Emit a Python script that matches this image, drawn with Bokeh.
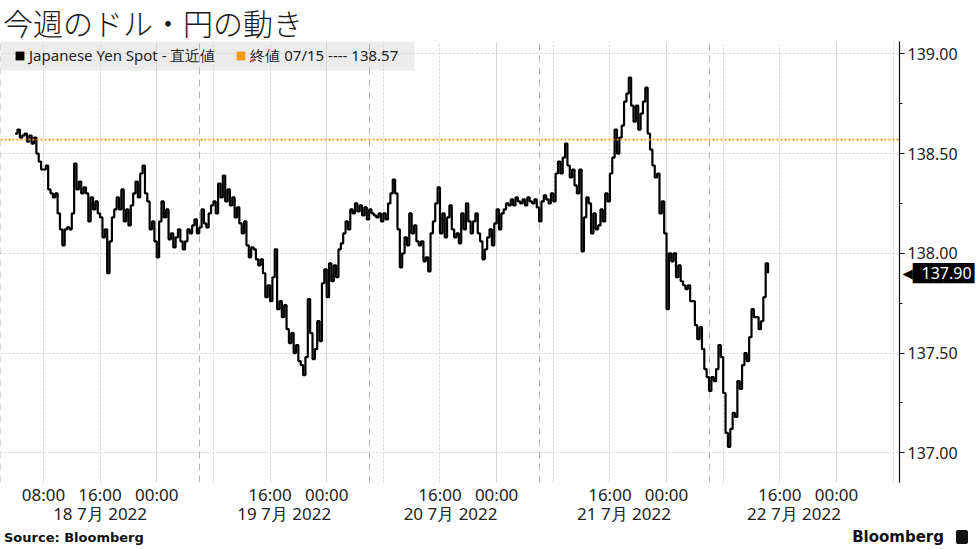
import pandas as pd
from bokeh.plotting import figure
from bokeh.layouts import column
from bokeh.models import (LinearAxis, FixedTicker, Grid, Span, Legend, LegendItem, Div,
                          BoxAnnotation, Range1d, ColumnDataSource, PrintfTickFormatter)
from bokeh.embed import file_html
from bokeh.resources import INLINE

# ---------------- data ----------------
title_text = "今週のドル・円の動き"
series_name = "Japanese Yen Spot - 直近値"
ref_name = "終値 07/15 ---- 138.57"
source_text = "Source: Bloomberg"
brand_text = "Bloomberg"
prev_close = 138.57
origin = "2022-07-18 00:00"          # JST
start_time = "2022-07-18 04:00"      # first sample
step = "20min"                       # sampling interval of the series
prices = [
    138.60, 138.62, 138.58, 138.59, 138.60, 138.56, 138.59, 138.55, 138.58, 138.50,
    138.46, 138.42, 138.42, 138.44, 138.32, 138.30, 138.28, 138.30, 138.20, 138.12,
    138.04, 138.12, 138.13, 138.12, 138.20, 138.45, 138.32, 138.36, 138.30, 138.33,
    138.30, 138.16, 138.28, 138.22, 138.26, 138.20, 138.18, 138.08, 138.12, 137.90,
    138.06, 138.18, 138.22, 138.28, 138.22, 138.32, 138.16, 138.22, 138.14, 138.24,
    138.30, 138.36, 138.28, 138.40, 138.44, 138.30, 138.26, 138.12, 138.16, 138.06,
    137.98, 138.16, 138.26, 138.18, 138.22, 138.07, 138.10, 138.03, 138.08, 138.12,
    138.06, 138.02, 138.06, 138.12, 138.10, 138.14, 138.17, 138.10, 138.13, 138.22,
    138.15, 138.13, 138.20, 138.24, 138.26, 138.20, 138.35, 138.28, 138.39, 138.26,
    138.32, 138.24, 138.28, 138.18, 138.23, 138.15, 138.10, 138.16, 138.04, 137.98,
    138.03, 138.02, 137.97, 137.94, 137.97, 137.90, 137.78, 137.84, 137.76, 137.88,
    138.02, 137.72, 137.76, 137.68, 137.74, 137.62, 137.55, 137.60, 137.50, 137.54,
    137.46, 137.44, 137.39, 137.48, 137.77, 137.60, 137.47, 137.52, 137.66, 137.56,
    137.85, 137.92, 137.78, 137.95, 137.86, 137.94, 137.88, 138.02, 138.05, 138.10,
    138.16, 138.12, 138.22, 138.20, 138.25, 138.21, 138.24, 138.19, 138.23, 138.17,
    138.22, 138.20, 138.19, 138.18, 138.20, 138.16, 138.20, 138.17, 138.25, 138.30,
    138.37, 138.30, 138.12, 137.93, 138.00, 138.08, 138.04, 138.20, 138.10, 138.14,
    138.06, 138.04, 138.06, 137.96, 137.98, 137.91, 138.10, 138.16, 138.25, 138.33,
    138.10, 138.20, 138.08, 138.18, 138.24, 138.12, 138.08, 138.10, 138.05, 138.20,
    138.12, 138.25, 138.16, 138.10, 138.16, 138.20, 138.10, 138.06, 137.97, 138.02,
    138.08, 138.12, 138.04, 138.15, 138.22, 138.12, 138.20, 138.22, 138.25, 138.24,
    138.27, 138.24, 138.28, 138.26, 138.25, 138.27, 138.24, 138.28, 138.26, 138.25,
    138.27, 138.23, 138.16, 138.26, 138.29, 138.27, 138.25, 138.30, 138.26, 138.40,
    138.46, 138.40, 138.48, 138.55, 138.44, 138.38, 138.42, 138.34, 138.30, 138.42,
    138.01, 138.18, 138.28, 138.25, 138.10, 138.20, 138.12, 138.14, 138.22, 138.16,
    138.30, 138.26, 138.40, 138.48, 138.62, 138.50, 138.58, 138.64, 138.76, 138.80,
    138.88, 138.74, 138.66, 138.74, 138.62, 138.70, 138.76, 138.83, 138.60, 138.52,
    138.44, 138.38, 138.40, 138.20, 138.26, 138.10, 137.72, 138.00, 137.96, 138.00,
    137.88, 137.94, 137.86, 137.84, 137.82, 137.84, 137.76, 137.76, 137.64, 137.57,
    137.63, 137.52, 137.42, 137.38, 137.31, 137.38, 137.36, 137.42, 137.54, 137.48,
    137.30, 137.10, 137.03, 137.12, 137.20, 137.18, 137.36, 137.32, 137.44, 137.50,
    137.46, 137.58, 137.72, 137.68, 137.68, 137.62, 137.66, 137.78, 137.95, 137.90,
]
y_ticks = [137.0, 137.5, 138.0, 138.5, 139.0]
y_minor = [136.75, 137.25, 137.75, 138.25, 138.75]
time_ticks = ["2022-07-18 08:00", "2022-07-18 16:00", "2022-07-19 00:00",
              "2022-07-19 16:00", "2022-07-20 00:00",
              "2022-07-20 16:00", "2022-07-21 00:00",
              "2022-07-21 16:00", "2022-07-22 00:00",
              "2022-07-22 16:00", "2022-07-23 00:00"]
date_ticks = ["2022-07-18 16:00", "2022-07-19 18:00", "2022-07-20 17:30",
              "2022-07-21 18:00", "2022-07-22 18:00"]
date_labels = ["18 7月 2022", "19 7月 2022", "20 7月 2022", "21 7月 2022", "22 7月 2022"]
session_starts = ["2022-07-19 06:00", "2022-07-20 06:00", "2022-07-21 06:00", "2022-07-22 06:00"]
view_start = "2022-07-18 01:56"
view_end = "2022-07-23 08:54"

# ---------------- helpers ----------------
t0 = pd.Timestamp(origin)
def hrs(s):
    return (pd.Timestamp(s) - t0) / pd.Timedelta(hours=1)

times = pd.date_range(start_time, periods=len(prices), freq=step)
hours = [(t - t0) / pd.Timedelta(hours=1) for t in times]
src = ColumnDataSource(dict(x=hours, y=prices))

x_start, x_end = hrs(view_start), hrs(view_end)
y_start, y_end = 136.8515, 139.0615

W = 977
TITLE_H, FOOT_H = 41, 22
H = 549 - TITLE_H - FOOT_H
BL, BR, BT, BB = 0, 65, 0, 44
frame_w = W - BL - BR
frame_h = H - BT - BB
hpp = (x_end - x_start) / frame_w
ypp = (y_end - y_start) / frame_h

p = figure(width=W, height=H, output_backend="svg", toolbar_location=None,
           x_range=Range1d(x_start, x_end), y_range=Range1d(y_start, y_end),
           x_axis_location=None, y_axis_location="right",
           min_border_left=BL, min_border_right=BR, min_border_top=BT, min_border_bottom=BB,
           background_fill_color="white", border_fill_color="white")
p.outline_line_color = None
p.grid.visible = False

# right axis
ya = p.yaxis[0]
ya.ticker = FixedTicker(ticks=y_ticks, minor_ticks=y_minor)
ya.formatter = PrintfTickFormatter(format="%.2f")
ya.axis_line_color = "#111111"
ya.axis_line_width = 1.2
ya.major_tick_line_color = "#111111"
ya.major_tick_out = 5
ya.major_tick_in = 0
ya.minor_tick_line_color = "#111111"
ya.minor_tick_out = 3
ya.minor_tick_in = 0
ya.major_label_standoff = 3
ya.major_label_text_font = "Noto Sans"
ya.major_label_text_font_size = "16px"
ya.major_label_text_color = "#222222"

# last-price tag: two extra right axes pulled back over the main one
last = prices[-1]
def tag_axis(label, font, size, color, standoff):
    ax = LinearAxis(ticker=FixedTicker(ticks=[last]), major_label_overrides={last: label})
    ax.axis_line_color = None
    ax.major_tick_line_color = None
    ax.minor_tick_line_color = None
    ax.major_tick_out = 0
    ax.minor_tick_out = 0
    ax.major_tick_in = 0
    ax.minor_tick_in = 0
    ax.major_label_standoff = standoff
    ax.major_label_text_font = font
    ax.major_label_text_font_size = size
    ax.major_label_text_color = color
    p.add_layout(ax, "right")
tag_axis("◀██████", "DejaVu Sans Mono", "17px", "black", -58)
tag_axis(f"{last:.2f}", "Noto Sans", "16px", "white", -56)

# legend band (under the grid lines)
p.add_layout(BoxAnnotation(left=x_start, right=x_start + 420 * hpp, top=y_end,
                           bottom=y_end - 29 * ypp, fill_color="#ececec", fill_alpha=1,
                           line_color=None, level="underlay"))

# grids
p.add_layout(Grid(dimension=1, ticker=FixedTicker(ticks=y_ticks),
                  grid_line_color="#d2d2d2", grid_line_dash="2 2", grid_line_width=1))
midnights = [hrs(t) for t in time_ticks if t.endswith("00:00")]
eights = [h for h in range(8, int(x_end) + 1, 8) if h % 24 != 0]
p.add_layout(Grid(dimension=0, ticker=FixedTicker(ticks=midnights),
                  grid_line_color="#d6d6d6", grid_line_width=1))
p.add_layout(Grid(dimension=0, ticker=FixedTicker(ticks=eights),
                  grid_line_color="#d2d2d2", grid_line_dash="2 2", grid_line_width=1))
p.add_layout(Grid(dimension=0, ticker=FixedTicker(ticks=[x_start + 0.05] + [hrs(s) for s in session_starts]),
                  grid_line_color="#b4b4b4", grid_line_dash="7 5", grid_line_width=1))

# previous close line
p.add_layout(Span(location=prev_close, dimension="width", line_color="#f59a14",
                  line_dash="2 2", line_width=1.6))

# series
p.step(x="x", y="y", source=src, mode="after", line_color="black", line_width=2.2)

# legend keys: zero-size rects at the first sample (invisible in the plot)
r_series_key = p.rect(x=[hours[0]], y=[prices[0]], width=0, height=0,
                      fill_color="black", line_color=None)
r_ref_key = p.rect(x=[hours[0]], y=[prices[0]], width=0, height=0,
                   fill_color="#f59a14", line_color=None)
legend = Legend(items=[LegendItem(label=series_name, renderers=[r_series_key]),
                       LegendItem(label=ref_name, renderers=[r_ref_key])],
                location=(14, frame_h - 16 - 10), orientation="horizontal",
                background_fill_alpha=0, border_line_color=None, margin=0, padding=0,
                spacing=20, label_standoff=4, glyph_width=11, glyph_height=11,
                label_text_font="Noto Sans", label_text_font_size="15px",
                label_text_color="#222222", label_height=16, label_width=0)
p.add_layout(legend)

# bottom axes: time of day, then dates
time_hours = [hrs(t) for t in time_ticks]
ax_t = LinearAxis(ticker=FixedTicker(ticks=time_hours),
                  major_label_overrides={h: t[-5:] for h, t in zip(time_hours, time_ticks)})
date_hours = [hrs(t) for t in date_ticks]
ax_d = LinearAxis(ticker=FixedTicker(ticks=date_hours),
                  major_label_overrides={h: lab for h, lab in zip(date_hours, date_labels)})
for ax, so in ((ax_t, 0), (ax_d, -7)):
    ax.axis_line_color = None
    ax.major_tick_line_color = None
    ax.minor_tick_line_color = None
    ax.major_tick_out = 0
    ax.minor_tick_out = 0
    ax.major_label_standoff = so
    ax.major_label_text_font = "Noto Sans"
    ax.major_label_text_font_size = "17px"
    ax.major_label_text_color = "#222222"
    p.add_layout(ax, "below")

# title and footer
title_div = Div(width=W, height=TITLE_H, margin=(0, 0, 0, 0),
                styles={"overflow": "visible"}, text=(
    "<div style=\"font-family:'Noto Sans CJK JP';font-size:30px;font-weight:300;"
    "line-height:normal;padding:0;margin:0 0 0 3px;color:#1a1a1a;white-space:nowrap;"
    "overflow:visible\">"
    f"{title_text}</div>"))
icon = ("<span style=\"display:inline-block;width:12px;height:14px;background:#111;"
        "border-radius:2px;margin-left:12px;vertical-align:-2px\"></span>")
foot_div = Div(width=W, height=FOOT_H, margin=(0, 0, 0, 0), text=(
    "<div style=\"width:968px;height:22px;display:flex;justify-content:space-between;"
    "align-items:center;padding-left:4px;font-family:'DejaVu Sans';color:#111;\">"
    f"<span style=\"font-weight:bold;font-size:13px\">{source_text}</span>"
    f"<span style=\"font-weight:bold;font-size:15px;white-space:nowrap\">{brand_text}{icon}</span>"
    "</div>"))

layout = column(title_div, p, foot_div, spacing=0)
open("out.html", "w").write(file_html(layout, INLINE))
